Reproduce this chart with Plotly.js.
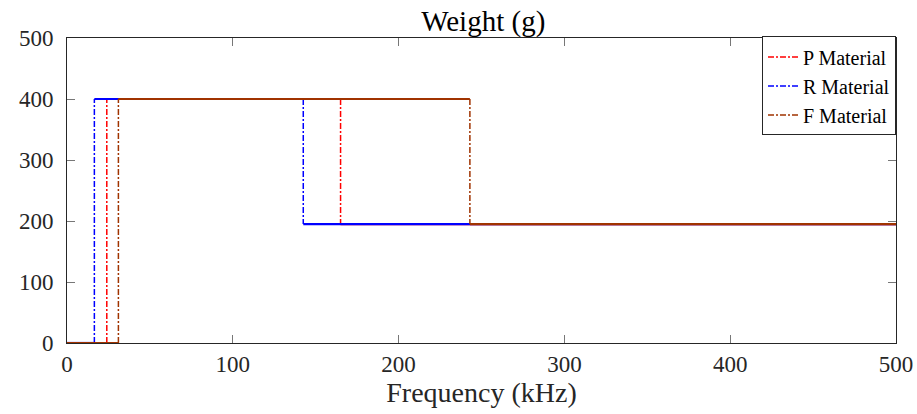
<!DOCTYPE html>
<html>
<head>
<meta charset="utf-8">
<script src="https://cdn.plot.ly/plotly-3.0.1.min.js"></script>
<style>html,body{margin:0;padding:0;background:#fff;}#chart{width:917px;height:414px;}</style>
</head>
<body>
<div id="chart"></div>
<script>
// Data
const seriesNames = ['P Material', 'R Material', 'F Material'];
const seriesColors = ['#ff0000', '#0000ff', '#a03300'];
const startFreq = [0, 0, 0];          // kHz
const riseFreq = [24, 16.5, 31];      // kHz, step up
const dropFreq = [165, 142.5, 243];   // kHz, step down
const endFreq = [500, 500, 500];      // kHz
const lowWeight = [0, 0, 0];          // g
const highWeight = [400, 400, 400];   // g
const endWeight = [195, 195, 195];    // g
const xTicks = [0, 100, 200, 300, 400, 500];
const yTicks = [0, 100, 200, 300, 400, 500];

const font = 'Liberation Serif';
const traces = [];
for (let i = 0; i < seriesNames.length; i++) {
  traces.push({
    type: 'scatter', mode: 'lines', name: seriesNames[i],
    x: [riseFreq[i], riseFreq[i], null, dropFreq[i], dropFreq[i]],
    y: [lowWeight[i], highWeight[i], null, highWeight[i], endWeight[i]],
    line: {color: seriesColors[i], width: 1.5, dash: '6px,2px,2px,2px'},
    legendgroup: 'g' + i, showlegend: true, hoverinfo: 'skip'
  });
  traces.push({
    type: 'scatter', mode: 'lines', name: seriesNames[i],
    x: [startFreq[i], riseFreq[i], null, riseFreq[i], dropFreq[i], null, dropFreq[i], endFreq[i]],
    y: [lowWeight[i], lowWeight[i], null, highWeight[i], highWeight[i], null, endWeight[i], endWeight[i]],
    line: {color: seriesColors[i], width: 2.2},
    legendgroup: 'g' + i, showlegend: false, hoverinfo: 'skip'
  });
}

const axisCommon = {
  showline: true, linecolor: '#262626', linewidth: 1, mirror: 'ticks',
  ticks: 'inside', ticklen: 8, tickcolor: '#777', tickwidth: 1,
  showgrid: false, zeroline: false,
  tickfont: {family: font, size: 23, color: '#262626'}
};

const layout = {
  width: 917, height: 414,
  margin: {l: 67, r: 21, t: 38, b: 71},
  paper_bgcolor: '#fff', plot_bgcolor: '#fff',
  font: {family: font, color: '#262626'},
  title: {text: 'Weight (g)', font: {family: font, size: 29, color: '#000'},
          x: 0.527, xanchor: 'center', yref: 'container', y: 0.975, yanchor: 'top'},
  xaxis: Object.assign({}, axisCommon, {
    range: [0, 500], tickvals: xTicks, ticktext: xTicks.map(String),
    title: {text: 'Frequency (kHz)', font: {family: font, size: 28, color: '#262626'}, standoff: 0}
  }),
  yaxis: Object.assign({}, axisCommon, {
    range: [0, 500], tickvals: yTicks, ticktext: yTicks.map(String),
    ticklabelstandoff: 8
  }),
  showlegend: true,
  legend: {
    x: 1, xanchor: 'right', y: 1.005, yanchor: 'top',
    bgcolor: '#fff', bordercolor: '#262626', borderwidth: 1,
    font: {family: font, size: 20, color: '#000'},
    tracegroupgap: 0
  }
};

Plotly.newPlot('chart', traces, layout, {displayModeBar: false, staticPlot: true});
</script>
</body>
</html>
